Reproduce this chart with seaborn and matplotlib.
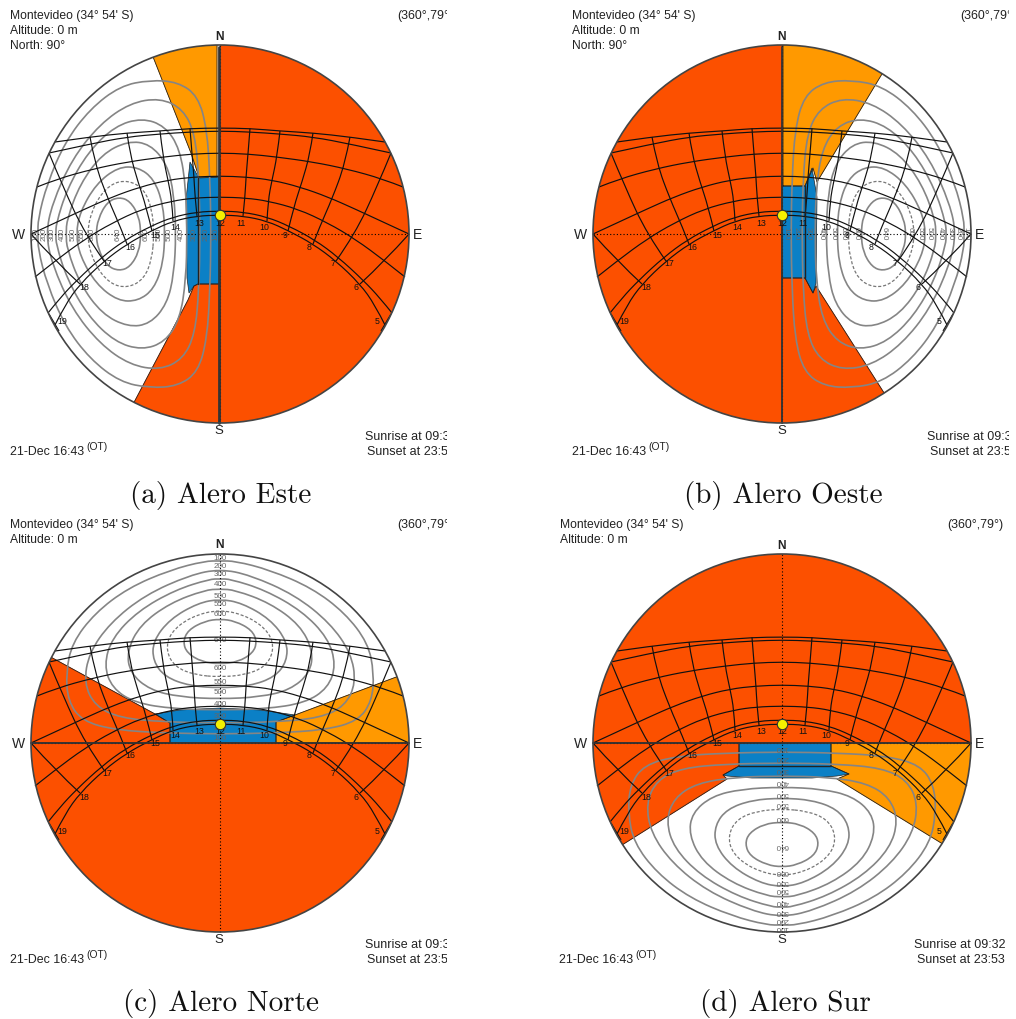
import matplotlib
matplotlib.use("Agg")
import matplotlib.pyplot as plt
import numpy as np
import pandas as pd
import seaborn as sns
from matplotlib.patches import Circle, PathPatch
from matplotlib.path import Path

# sun path date arcs, east half (px from the centre of the dome)
date_arcs = [
    [(0, 106), (30, 105.5), (60, 103), (93, 101), (130, 97), (165, 92)],
    [(0, 103), (30, 102), (60, 100), (93, 97), (130, 90), (171, 81)],
    [(0, 81), (28, 80), (57, 77), (93, 72), (127, 65), (163, 55), (183, 47)],
    [(0, 58), (26, 57), (52, 54), (80, 47), (108, 37), (135, 25), (163, 12), (189, 0)],
    [(0, 37), (26, 36), (48, 33), (78, 25), (108, 11), (135, -5), (165, -27), (185, -43)],
    [(0, 23), (23, 22), (47, 17), (69, 8), (95, -6), (118, -23), (143, -46), (160, -64), (172, -79)],
    [(0, 19), (23, 18), (47, 13), (69, 3), (93, -10), (116, -27), (140, -50), (155, -71), (165, -91)],
]
# hour lines, east half, 11h down to 5h
hour_lines = [
    [(30, 105.5), (28, 80), (26, 57), (25, 37), (23, 18)],
    [(60, 103), (57, 77), (52, 54), (48, 33), (47, 13)],
    [(93, 101), (90, 80), (82, 52), (74, 28), (68, 3)],
    [(130, 97), (125, 70), (112, 35), (100, 8), (93, -10)],
    [(171, 81), (157, 47), (135, 0), (116, -27)],
    [(189, 0), (165, -27), (140, -50)],
    [(171, -80), (161, -97)],
]
hour_text = ["12", "11", "10", "9", "8", "7", "6", "5", "13", "14", "15", "16", "17", "18", "19"]
hour_xy = [(0, 11), (21, 11), (44, 7), (65, -1), (89, -13), (113, -30), (136, -54), (157, -88),
           (-21, 11), (-45, 7), (-65, -1), (-90, -13), (-113, -30), (-136, -54), (-158, -88)]

# irradiation rings: half outline (distance along the lobe axis, distance off it)
ring_200 = [(9, 0), (10, 55), (13, 105), (22, 138), (42, 152), (70, 154), (100, 148), (130, 125), (155, 92), (173, 50), (182, 15), (182, 0)]
ring_300 = [(20, 0), (21, 55), (25, 100), (37, 125), (60, 136), (90, 131), (120, 110), (148, 75), (168, 30), (174, 0)]
ring_400 = [(33, 0), (34, 45), (40, 85), (55, 108), (78, 116), (105, 108), (132, 82), (153, 45), (164, 10), (164, 0)]
ring_500 = [(44, 0), (46, 40), (53, 70), (70, 90), (92, 93), (118, 80), (140, 50), (153, 15), (154, 0)]
ring_550 = [(55, 0), (57, 30), (66, 55), (82, 67), (102, 67), (124, 50), (140, 22), (144, 0)]
ring_600 = [(66, 0), (68, 25), (76, 45), (92, 54), (110, 50), (126, 30), (134, 0)]
ring_640 = [(79, 0), (81, 18), (90, 33), (101, 37), (113, 32), (122, 15), (124, 0)]
solid_rings = [ring_200, ring_300, ring_400, ring_500, ring_550, ring_640]
ring_text = ["100", "200", "300", "400", "500", "550", "600", "640", "600", "550", "500", "400", "300", "200", "100"]
ring_text_u = [4, 14, 26, 39, 51, 61, 74, 102, 128, 138, 147, 158, 168, 176, 184]

# shading masks per panel
red_a = [[(0, 195), (195, 195), (195, -195), (0, -195)],
         [(-22, -50), (0, -50), (0, -195), (-100, -195), (-32, -66), (-26, -52)]]
amber_a = [[(-21, 57), (-3, 57), (-3, 195), (-74, 195), (-29, 81)]]
blue_a = [[(-30, 72), (-34, 34), (-33, -44), (-31, -59), (-26, -52), (-22, -50), (0, -50), (0, 57), (-21, 56)]]
red_b = [[(0, 195), (-195, 195), (-195, -195), (0, -195)],
         [(0, -44), (23, -44), (31, -59), (34, -52), (125, -195), (0, -195)]]
amber_b = [[(1, 48), (1, 195), (121, 195), (35, 52), (31, 66), (23, 48)]]
blue_b = [[(0, 48), (23, 48), (30, 66), (35, 37), (34, -49), (31, -59), (23, -44), (0, -44)]]
red_c = [[(-195, 0), (195, 0), (195, -195), (-195, -195)],
         [(-195, 100), (-65, 29), (-50, 20), (-50, 0), (-195, 0)]]
amber_c = [[(56, 0), (56, 21), (75, 28), (195, 73), (195, 0)]]
blue_c = [[(-65, 29), (-40, 33), (0, 35), (40, 33), (75, 28), (56, 21), (56, 0), (-50, 0), (-50, 20)]]
red_d = [[(-195, 0), (195, 0), (195, 195), (-195, 195)],
         [(-195, -124), (-55, -36), (-59, -32), (-43, -23), (-43, 0), (-195, 0)]]
amber_d = [[(49, 0), (49, -23), (67, -31), (55, -36), (195, -122), (195, 0)]]
blue_d = [[(-43, 0), (49, 0), (49, -23), (67, -31), (55, -33), (30, -35), (0, -35), (-30, -35), (-55, -33), (-59, -32), (-43, -23)]]

place = "Montevideo (34° 54' S)"
altitude = "Altitude: 0 m"
north = "North: 90°"
view = ["(360°,79°", "(360°,79°", "(360°,79°", "(360°,79°)"]
date = "21-Dec 16:43"
zone = "(OT)"
sunrise = "Sunrise at 09:32"
sunset = "Sunset at 23:53"
captions = ["(a) Alero Este", "(b) Alero Oeste", "(c) Alero Norte", "(d) Alero Sur"]

RED = "#fc5000"
AMBER = "#ff9900"
BLUE = "#0b80c6"
W, H = 1016, 1019

sns.set_theme(style="white")
plt.rcParams["font.family"] = ["Liberation Sans", "DejaVu Sans"]
fig = plt.figure(figsize=(W / 100, H / 100), dpi=100)


def turn(points, rot):
    # rings are stored for the north lobe, each panel turns them by its own quarter
    out = []
    for u, v in points:
        out.append({0: (v, u), 90: (-u, v), 180: (-v, -u), 270: (u, -v)}[rot])
    return out


def closed_ring(half, rot):
    pts = half + [(u, -v) for u, v in half[-2:0:-1]]
    pts = np.array(turn(pts, rot), dtype=float)
    mids = (pts + np.roll(pts, -1, axis=0)) / 2
    verts = [mids[-1]]
    codes = [Path.MOVETO]
    for p, m in zip(pts, mids):
        verts += [p, m]
        codes += [Path.CURVE3, Path.CURVE3]
    return Path(verts, codes)


def open_curve(points):
    pts = np.array(points, dtype=float)
    if len(pts) < 3:
        return Path(pts)
    mids = (pts[:-1] + pts[1:]) / 2
    verts = [pts[0]]
    codes = [Path.MOVETO]
    for p, m in zip(pts[1:-2], mids[1:-1]):
        verts += [p, m]
        codes += [Path.CURVE3, Path.CURVE3]
    verts += [pts[-2], pts[-1]]
    codes += [Path.CURVE3, Path.CURVE3]
    return Path(verts, codes)


def grid_curves():
    curves = []
    for arc in date_arcs:
        curves.append([(-x, y) for x, y in arc[:0:-1]] + arc)
    for line in hour_lines:
        curves.append(line)
        curves.append([(-x, y) for x, y in line])
    return curves


curves = grid_curves()
axis_lines = pd.DataFrame({"line": [0, 0, 1, 1], "x": [-189, 189, 0, 0], "y": [0, 0, -189, 189]})


def panel(box, centre, rot, red, amber, blue, texts, caption, cap_xy, wall, inner, wall_lw):
    x0, y0, x1, y1 = box
    cx, cy = centre
    ax = fig.add_axes([x0 / W, 1 - y1 / H, (x1 - x0) / W, (y1 - y0) / H])
    dome = Circle((0, 0), 189, fc="white", ec="none", zorder=0)
    ax.add_patch(dome)
    for polys, col in ((red, RED), (amber, AMBER), (blue, BLUE)):
        for poly in polys:
            xs, ys = zip(*poly)
            for p in ax.fill(xs, ys, color=col, lw=0.5, ec="#222222" if col == BLUE else col, zorder=1):
                p.set_clip_path(dome)
    # mask edges facing the white part
    for polys in (amber, red[1:]):
        for poly in polys:
            xs, ys = zip(*(poly + poly[:1]))
            for ln in ax.plot(xs, ys, color="#222222", lw=0.6, zorder=1.5):
                ln.set_clip_path(dome)

    for half in solid_rings:
        ax.add_patch(PathPatch(closed_ring(half, rot), fc="none", ec="#858585", lw=1.2, zorder=2))
    ax.add_patch(PathPatch(closed_ring(ring_600, rot), fc="none", ec="#777777", lw=0.9, ls=(0, (2.5, 1.5)), zorder=2))
    for label, u in zip(ring_text, ring_text_u):
        (tx, ty), = turn([(u, 0)], rot)
        ax.text(tx, ty, label, fontsize=5.8, color="#666666", rotation=rot, rotation_mode="anchor",
                ha="center", va="center", zorder=3)

    for curve in curves:
        ax.add_patch(PathPatch(open_curve(curve), fc="none", ec="#111111", lw=0.85, zorder=3))
    sns.lineplot(data=axis_lines, x="x", y="y", units="line", estimator=None, sort=False,
                 color="black", lw=0.8, ls=(0, (1, 2)), ax=ax, zorder=3, legend=False)
    sns.lineplot(x=wall[0], y=wall[1], sort=False, estimator=None, color="#333333", lw=wall_lw, ax=ax, zorder=3.5)
    if inner:
        sns.lineplot(x=inner[0], y=inner[1], sort=False, estimator=None, color="#222222", lw=1.0, ax=ax, zorder=3.5)
    ax.add_patch(Circle((0, 0), 189, fc="none", ec="#444444", lw=1.2, zorder=4))

    for label, (hx, hy) in zip(hour_text, hour_xy):
        ax.text(hx, hy, label, fontsize=6.3, color="#111111", ha="center", va="center", zorder=4)
    ax.plot([0], [19], "o", ms=7.5, mfc="#f5f000", mec="#333333", mew=0.8, zorder=5)

    for label, px, py, size, ha, weight in texts:
        ax.text(px - cx, cy - py, label, fontsize=size, color="#222222", ha=ha, va="center",
                fontweight=weight, clip_on=True, zorder=6)
    ax.set_xlim(x0 - cx, x1 - cx)
    ax.set_ylim(cy - y1, cy - y0)
    ax.set_axis_off()
    fig.text(cap_xy[0] / W, 1 - cap_xy[1] / H, caption, family="cmr10", fontsize=21,
             color="#111111", ha="center", va="center")


def labels(x, top, has_north, view_label, view_x, date_x, rise_x, set_x, low, cx, cy, rim_left, rim_right, s_y, n_y):
    out = [(place, x, top, 8.7, "left", "normal"), (altitude, x, top + 15, 8.7, "left", "normal"),
           (view_label, view_x, top, 8.9, "left", "normal"),
           (date, date_x, low + 15, 8.9, "left", "normal"), (zone, date_x + 76, low + 10, 7.4, "left", "normal"),
           (sunrise, rise_x, low, 9, "left", "normal"), (sunset, set_x, low + 15, 9, "left", "normal"),
           ("N", cx, n_y, 8.6, "center", "bold"), ("S", cx, s_y, 9.5, "center", "normal"),
           ("W", rim_left, cy + 1, 10, "center", "normal"), ("E", rim_right, cy + 1, 10, "center", "normal")]
    if has_north:
        out.append((north, x, top + 30, 8.7, "left", "normal"))
    return out


panel((0, 0, 447, 470), (220, 234), 90, red_a, amber_a, blue_a,
      labels(10, 16, True, view[0], 397, 10, 365, 367, 437, 219, 234, 19, 417, 431, 37),
      captions[0], (221, 495), ([-1, -1], [187, -189]), ([-22, -22], [56, -50]), 2.0)
panel((562, 0, 1009, 470), (782, 234), 270, red_b, amber_b, blue_b,
      labels(572, 16, True, view[1], 960, 572, 927, 930, 437, 782, 234, 581, 979, 431, 37),
      captions[1], (783, 495), ([0, 0], [187, -189]), ([23, 23], [48, -44]), 1.3)
panel((0, 510, 447, 975), (220, 743), 0, red_c, amber_c, blue_c,
      labels(10, 525, False, view[2], 397, 10, 365, 367, 945, 219, 743, 19, 417, 940, 545),
      captions[2], (221, 1003), ([-189, 189], [0, 0]), None, 1.3)
panel((550, 510, 1016, 975), (782, 743), 180, red_d, amber_d, blue_d,
      labels(560, 525, False, view[3], 947, 559, 914, 917, 945, 782, 743, 581, 979, 940, 546),
      captions[3], (785, 1003), ([-189, 189], [0, 0]), ([-43, 49], [-23, -23]), 1.3)

fig.savefig("out.png", dpi=100)
